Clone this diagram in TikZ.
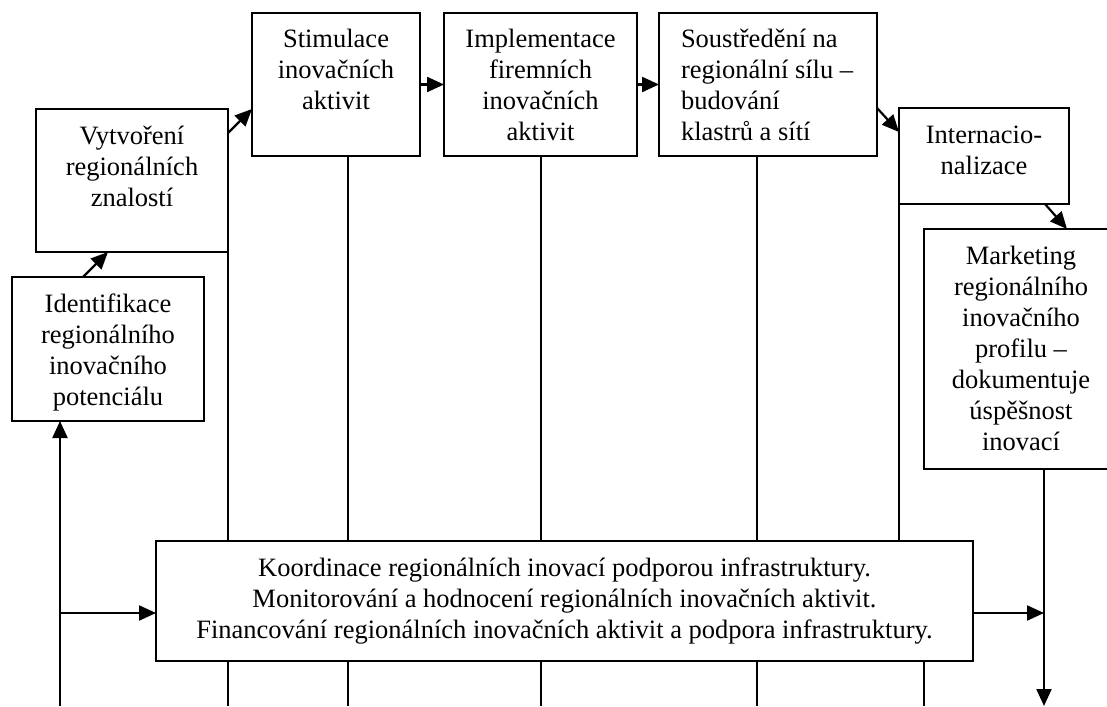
\documentclass[tikz,border=0pt]{standalone}
\usepackage{fontspec}
\setmainfont{Liberation Serif}
\usetikzlibrary{arrows.meta}
\newcommand\topbox[3]{\parbox[c][#2][t]{#1}{\centering\rule{0pt}{35pt}#3}}
\begin{document}
\begin{tikzpicture}[x=1pt,y=-1pt,
  font=\fontsize{26.5pt}{31pt}\selectfont,
  box/.style={draw, line width=2.2pt, fill=white, inner sep=0pt, outer sep=0pt, anchor=north west},
  arr/.style={line width=2.2pt, -{Triangle[length=17pt,width=15pt]}},
  thin/.style={line width=1.6pt}]
\useasboundingbox (0,0) rectangle (1107,706);
\clip (0,0) rectangle (1107,706);
\coordinate (bot) at (0,706);
% boxes
\node[box] (ident) at (12,277) {\topbox{192pt}{144pt}{Identifikace\\regionálního\\inovačního\\potenciálu}};
\node[box] (vytv) at (36,109) {\topbox{192pt}{143pt}{Vytvoření\\regionálních\\znalostí}};
\node[box] (stim) at (252,13) {\topbox{168pt}{143pt}{Stimulace\\inovačních\\aktivit}};
\node[box] (impl) at (444,13) {\topbox{193pt}{143pt}{Implementace\\firemních\\inovačních\\aktivit}};
\node[box] (sous) at (659,13) {\parbox[c][143pt][t]{218pt}{\raggedright\leftskip=22pt\rule{0pt}{35pt}Soustředění na\\regionální sílu –\\budování\\klastrů a sítí}};
\node[box] (inter) at (899,108) {\topbox{170pt}{96pt}{Internacio-\\nalizace}};
\node[box] (mark) at (924,229) {\topbox{194pt}{240pt}{Marketing\\regionálního\\inovačního\\profilu –\\dokumentuje\\úspěšnost\\inovací}};
\node[box, minimum width=817pt, minimum height=120pt, align=center] (koord) at (156,541)
  {Koordinace regionálních inovací podporou infrastruktury.\\
   Monitorování a hodnocení regionálních inovačních aktivit.\\
   Financování regionálních inovačních aktivit a podpora infrastruktury.};
% coordinates
\coordinate (c1) at (60,706);
\coordinate (kw) at ([yshift=-12pt]koord.west);
\coordinate (ke) at ([yshift=-12pt]koord.east);
\coordinate (s2) at ([xshift=96pt]stim.south west);
\coordinate (s3) at ([xshift=97pt]impl.south west);
\coordinate (s4) at ([xshift=98pt]sous.south west);
\coordinate (mb) at ([xshift=120pt]mark.south west);
% flow arrows
\draw[arr] ([xshift=71pt]ident.north west) -- ([xshift=72pt]vytv.south west);
\draw[arr] ([yshift=-24pt]vytv.north east) -- ([yshift=-96pt]stim.north west);
\draw[arr] (stim.east) -- (impl.west);
\draw[arr] (impl.east) -- (sous.west);
\draw[arr] ([yshift=-95pt]sous.north east) -- ([yshift=-24pt]inter.north west);
\draw[arr] ([xshift=-24pt]inter.south east) -- ([xshift=143pt]mark.north west);
% left feedback
\draw[arr] (c1) -- (c1 |- ident.south);
\draw[arr] (c1 |- kw) -- (kw);
% right
\draw[arr] (ke) -- (mb |- ke);
\draw[arr] (mb) -- (mb |- bot);
% verticals
\draw[thin] (vytv.south east) -- (vytv.south east |- koord.north);
\draw[thin] (vytv.south east |- koord.south) -- (vytv.south east |- bot);
\draw[thin] (s2) -- (s2 |- koord.north);
\draw[thin] (s2 |- koord.south) -- (s2 |- bot);
\draw[thin] (s3) -- (s3 |- koord.north);
\draw[thin] (s3 |- koord.south) -- (s3 |- bot);
\draw[thin] (s4) -- (s4 |- koord.north);
\draw[thin] (s4 |- koord.south) -- (s4 |- bot);
\draw[thin] (inter.south west) -- (inter.south west |- koord.north);
\draw[thin] (mark.south west |- koord.south) -- (mark.south west |- bot);
\end{tikzpicture}
\end{document}
